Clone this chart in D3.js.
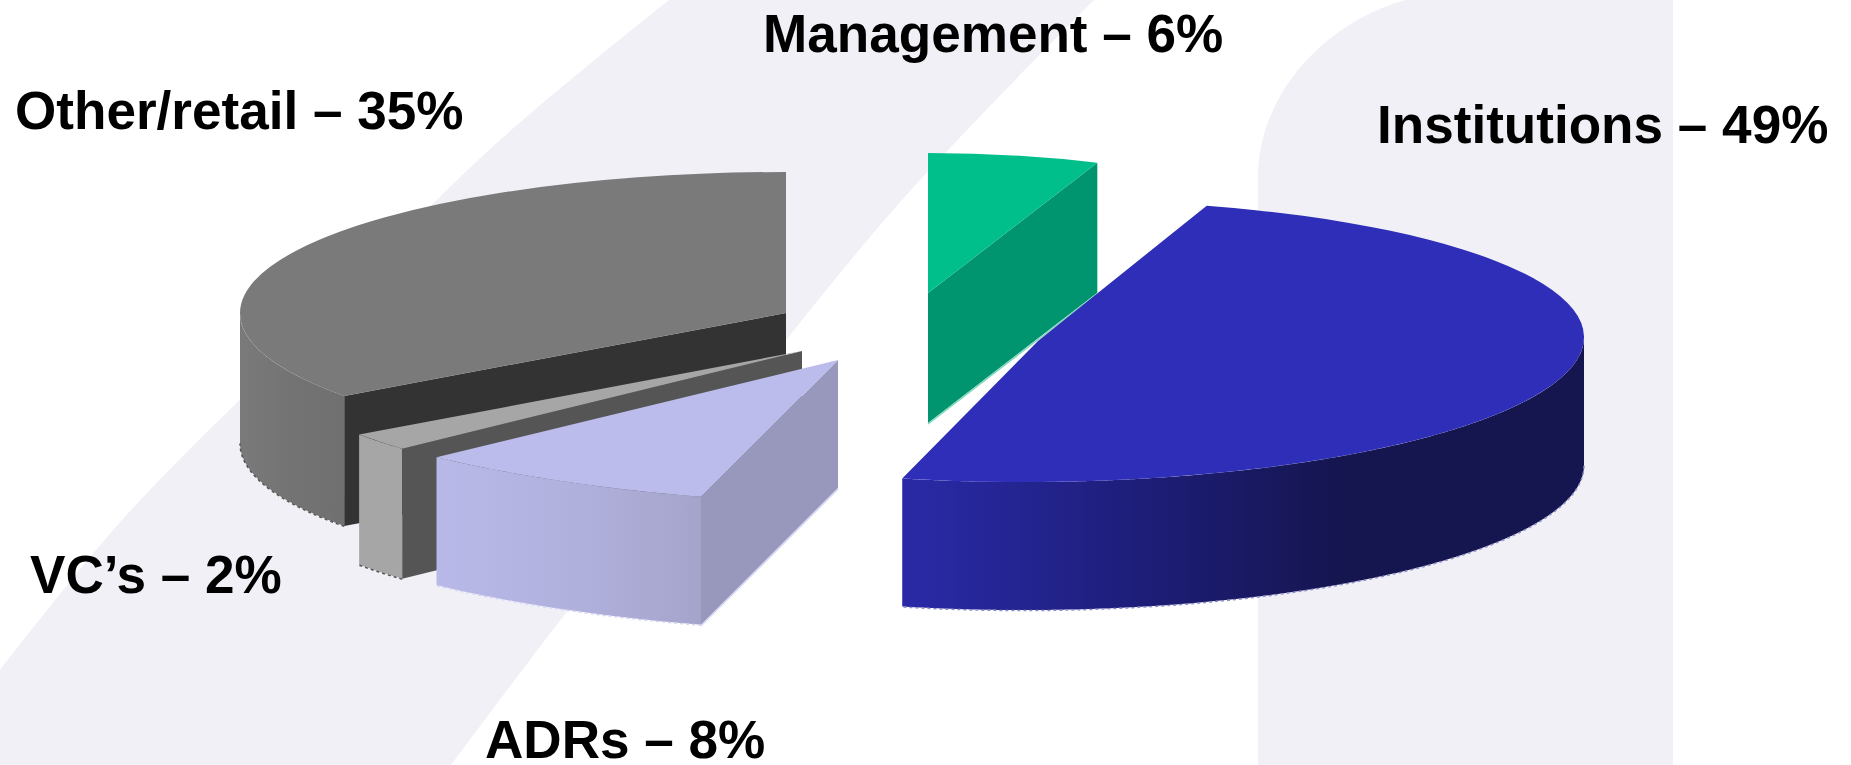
<!DOCTYPE html>
<html>
<head>
<meta charset="utf-8">
<title>Shareholder mix</title>
<script src="https://cdn.jsdelivr.net/npm/d3@7/dist/d3.min.js"></script>
<style>
  html, body { margin: 0; padding: 0; background: #fff; overflow: hidden; }
  svg { display: block; }
  text { font-family: "Liberation Sans", Arial, sans-serif; font-weight: 700; font-size: 53.1px; fill: #000; }
</style>
</head>
<body>
<script>
// Shareholder groups, clockwise from twelve o'clock
const holders = ["Management", "Institutions", "ADRs", "VC\u2019s", "Other/retail"];
const shares = [6, 49, 8, 2, 35];

// Exploded 3-D layout for each wedge: hub position, ellipse radii, wall height, nudge and shear
const hubX = [928, 1038, 838, 802, 786];
const hubY = [293, 341, 360, 351, 313];
const radiusX = [460, 546, 600, 544, 546];
const radiusY = [140, 141, 144, 144, 141];
const wallHeight = [130, 128, 128, 130, 130];
const turnDeg = [0, -3.6, -4.8, 0.5, 0];
const shear = [0, -0.007, 0.0245, 0, 0];

// Face colours
const topFill = ["#00bf8b", "#2e2eb9", "#bcbcec", "#a6a6a6", "#7a7a7a"];
const cutFill = ["#00956e", "#15154f", "#9898bd", "#555555", "#333333"];
const wallStops = [
  [[0, "#00956e"], [1, "#00956e"]],
  [[0, "#2a2aa8"], [0.3, "#1f1f80"], [0.65, "#15154f"], [1, "#15154f"]],
  [[0, "#b9b9e9"], [0.5, "#b1b1de"], [1, "#a4a4cb"]],
  [[0, "#a6a6a6"], [1, "#a6a6a6"]],
  [[0, "#7a7a7a"], [0.5, "#737373"], [1, "#707070"]]
];
const fringe = ["#7fd6bd", "#8f8fc8", "#d4d4f2", "#555555", "#555555"];

// Label anchor points
const labelX = [763, 1377, 485, 30, 15];
const labelY = [52, 143, 758, 593, 129];

const width = 1851, height = 765;
const svg = d3.select("body").append("svg").attr("width", width).attr("height", height);
const defs = svg.append("defs");

// Pale backdrop: a sweeping diagonal band and a rounded panel
const backdrop = "#f1f0f7";
const bandLeft = [[669, 0], [489, 150], [300, 340], [122, 520], [0, 670]];
const bandRight = [[451, 765], [566, 613], [730, 410], [902, 200], [1094, 0]];
const bandLine = d3.line().curve(d3.curveCatmullRom);
const bandPath = bandLine(bandLeft) + "L0,765" + bandLine(bandRight).replace("M", "L") + "Z";
svg.append("path").attr("d", bandPath).attr("fill", backdrop);

const panelPath = d3.path();
panelPath.moveTo(1258, 765);
panelPath.lineTo(1258, 170);
panelPath.bezierCurveTo(1262, 95, 1320, 25, 1405, 0);
panelPath.lineTo(1673, 0);
panelPath.lineTo(1673, 765);
panelPath.closePath();
svg.append("path").attr("d", panelPath.toString()).attr("fill", backdrop);

// Wedge angles come straight from the share values
const pie = d3.pie().value(d => d).sort(null).startAngle(0).endAngle(2 * Math.PI);
const arcRadius = 1000;
const wedgeArc = d3.arc().innerRadius(0).outerRadius(arcRadius);
const wedges = pie(shares).map((w, i) => {
  const turn = turnDeg[i] * Math.PI / 180;
  return { i, a0: w.startAngle + turn, a1: w.endAngle + turn };
});

const rimX = (w, a) => hubX[w.i] + radiusX[w.i] * Math.sin(a);
const rimY = (w, a) => hubY[w.i] - radiusY[w.i] * Math.cos(a) + shear[w.i] * radiusX[w.i] * Math.sin(a);

wallStops.forEach((stops, i) => {
  const grad = defs.append("linearGradient").attr("id", "wall" + i);
  stops.forEach(s => grad.append("stop").attr("offset", s[0]).attr("stop-color", s[1]));
});

// A cut edge shows when its outward side faces the viewer
function drawCut(g, w, a) {
  const i = w.i, x0 = hubX[i], y0 = hubY[i], x1 = rimX(w, a), y1 = rimY(w, a), h = wallHeight[i];
  g.append("path")
    .attr("d", d3.line()([[x0, y0], [x1, y1], [x1, y1 + h], [x0, y0 + h]]) + "Z")
    .attr("fill", cutFill[i]);
  if (i === 0 || i === 2) {
    // Soft pale seam along the lower edge of the cut
    g.append("path")
      .attr("d", d3.line()([[x1, y1 + h + 1], [x0, y0 + h + 1]]))
      .attr("fill", "none").attr("stroke", fringe[i]).attr("stroke-width", 1.5);
  }
}

function drawWedge(w) {
  const g = svg.append("g").attr("class", "wedge");
  const i = w.i;
  // Outer wall: the stretch of rim on the near half of the ellipse
  const lo = Math.max(w.a0, Math.PI / 2), hi = Math.min(w.a1, 3 * Math.PI / 2);
  if (lo < hi) {
    const angles = d3.range(lo, hi, 0.005).concat(hi);
    const wall = d3.area().x(a => rimX(w, a)).y0(a => rimY(w, a)).y1(a => rimY(w, a) + wallHeight[i]);
    g.append("path").attr("d", wall(angles)).attr("fill", `url(#wall${i})`);
    // Dotted seam along the foot of the wall
    const foot = d3.line().x(a => rimX(w, a)).y(a => rimY(w, a) + wallHeight[i] + 0.5);
    g.append("path").attr("d", foot(angles)).attr("fill", "none")
      .attr("stroke", fringe[i]).attr("stroke-width", 1.5).attr("stroke-dasharray", "3 3");
  }
  if (Math.sin(w.a0) < 0) drawCut(g, w, w.a0);
  if (Math.sin(w.a1) > 0.01) drawCut(g, w, w.a1);
  const sx = radiusX[i] / arcRadius, sy = radiusY[i] / arcRadius;
  g.append("path")
    .attr("d", wedgeArc({ startAngle: w.a0, endAngle: w.a1 }))
    .attr("transform", `matrix(${sx},${shear[i] * sx},0,${sy},${hubX[i]},${hubY[i]})`)
    .attr("fill", topFill[i]);
}

// Painted back to front
[4, 3, 2, 0, 1].forEach(i => drawWedge(wedges[i]));

svg.append("g").selectAll("text").data(holders).join("text")
  .attr("x", (d, i) => labelX[i])
  .attr("y", (d, i) => labelY[i])
  .text((d, i) => `${d} \u2013 ${shares[i]}%`);
</script>
</body>
</html>
